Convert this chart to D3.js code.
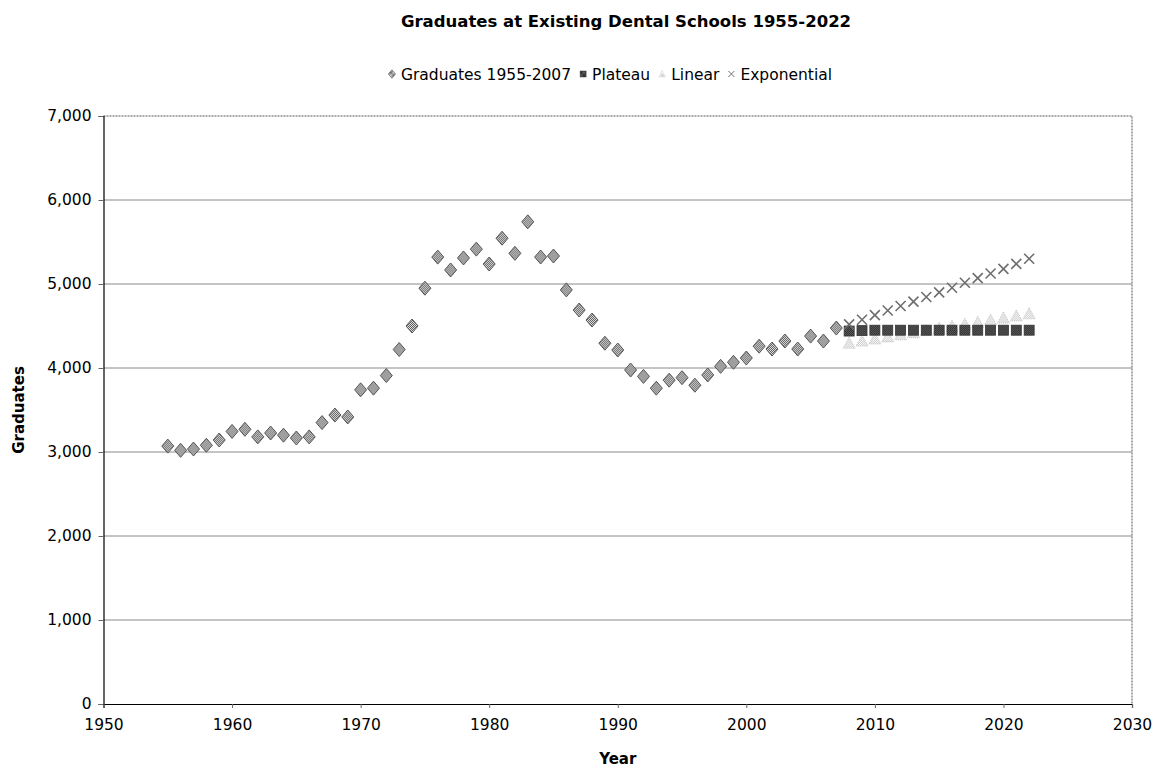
<!DOCTYPE html>
<html>
<head>
<meta charset="utf-8">
<script src="https://cdn.jsdelivr.net/npm/d3@7/dist/d3.min.js"></script>
<style>
  html, body { margin: 0; padding: 0; background: #fff; }
  svg { display: block; font-family: "DejaVu Sans", Verdana, sans-serif; }
</style>
</head>
<body>
<svg id="chart" width="1158" height="768"></svg>
<script>
// Historical graduates, 1955-2007
const histYears = d3.range(1955, 2008);
const histValues = [
  3070, 3020, 3035, 3080, 3143, 3245, 3270, 3180, 3226, 3200,
  3167, 3180, 3350, 3440, 3417, 3740, 3760, 3910, 4220, 4500,
  4950, 5320, 5167, 5310, 5415, 5238, 5545, 5365, 5740, 5321,
  5333, 4930, 4690, 4571, 4295, 4214, 3976, 3900, 3760, 3855,
  3885, 3795, 3917, 4020, 4068, 4119, 4260, 4226, 4321, 4226,
  4380, 4321, 4476
];

// Projections, 2008-2022
const projYears = d3.range(2008, 2023);
const plateauValues = [
  4440, 4445, 4450, 4450, 4450, 4450, 4450, 4450,
  4450, 4450, 4450, 4450, 4450, 4450, 4450
];
const linearValues = [
  4295, 4320, 4345, 4370, 4395, 4420, 4445, 4470,
  4495, 4520, 4545, 4570, 4595, 4620, 4645
];
const exponentialValues = [
  4520, 4575, 4630, 4685, 4738, 4790, 4845, 4900,
  4955, 5015, 5070, 5125, 5180, 5240, 5300
];

const yTicks = [0, 1000, 2000, 3000, 4000, 5000, 6000, 7000];
const xTicks = [1950, 1960, 1970, 1980, 1990, 2000, 2010, 2020, 2030];

const titleText = "Graduates at Existing Dental Schools 1955-2022";
const legendItems = [
  { key: "hist", label: "Graduates 1955-2007" },
  { key: "plateau", label: "Plateau" },
  { key: "linear", label: "Linear" },
  { key: "exp", label: "Exponential" }
];

const svg = d3.select("#chart");
const plot = { left: 103.5, right: 1132, top: 116, bottom: 704 };

const x = d3.scaleLinear().domain([1950, 2030]).range([plot.left, plot.right]);
const y = d3.scaleLinear().domain([0, 7000]).range([plot.bottom, plot.top]);

// Fill patterns that give the markers their hatched look
const defs = svg.append("defs");
const checker = (id, a, b) => {
  const p = defs.append("pattern").attr("id", id)
    .attr("width", 2).attr("height", 2).attr("patternUnits", "userSpaceOnUse");
  p.append("rect").attr("width", 2).attr("height", 2).attr("fill", b);
  p.append("rect").attr("width", 1).attr("height", 1).attr("fill", a);
  p.append("rect").attr("x", 1).attr("y", 1).attr("width", 1).attr("height", 1).attr("fill", a);
};
checker("pDiamond", "#5a5a5a", "#e4e4e4");
checker("pSquare", "#222", "#6a6a6a");
checker("pTri", "#c8c8c8", "#fff");

// Title
svg.append("text")
  .attr("x", 626).attr("y", 27)
  .attr("text-anchor", "middle")
  .attr("font-size", 16.5).attr("font-weight", "bold")
  .text(titleText);

// Gridlines
svg.append("g").selectAll("line")
  .data(yTicks.filter(d => d > 0 && d < 7000))
  .join("line")
  .attr("x1", plot.left).attr("x2", plot.right)
  .attr("y1", d => y(d)).attr("y2", d => y(d))
  .attr("stroke", "#8a8a8a").attr("stroke-width", 1);

// Plot border (top and right)
svg.append("path")
  .attr("d", `M${plot.left},${plot.top}H${plot.right}V${plot.bottom}`)
  .attr("fill", "none").attr("stroke", "#555").attr("stroke-width", 1)
  .attr("stroke-dasharray", "2,1");

// Axes
const yAxis = d3.axisLeft(y).tickValues(yTicks).tickSize(5).tickPadding(7)
  .tickFormat(d3.format(","));
const xAxis = d3.axisBottom(x).tickValues(xTicks).tickSize(4).tickPadding(11)
  .tickFormat(d3.format("d"));

const gy = svg.append("g").attr("transform", `translate(${plot.left},0)`).call(yAxis);
const gx = svg.append("g").attr("transform", `translate(0,${plot.bottom})`).call(xAxis);
[gy, gx].forEach(g => {
  g.select(".domain").attr("stroke", "#000").attr("stroke-width", 1.2);
  g.selectAll(".tick line").attr("stroke", "#666");
  g.selectAll(".tick text").attr("font-size", 15.5).attr("fill", "#000")
    .attr("font-family", "\"DejaVu Sans\", Verdana, sans-serif");
});

// Axis titles
svg.append("text")
  .attr("transform", `translate(24,${(plot.top + plot.bottom) / 2}) rotate(-90)`)
  .attr("text-anchor", "middle").attr("font-size", 15).attr("font-weight", "bold")
  .text("Graduates");
svg.append("text")
  .attr("x", (plot.left + plot.right) / 2).attr("y", 764)
  .attr("text-anchor", "middle").attr("font-size", 15).attr("font-weight", "bold")
  .text("Year");

// Marker drawers
const marker = {
  hist: (g) => g.append("path").attr("d", "M0,-7L6,0L0,7L-6,0Z")
    .attr("fill", "url(#pDiamond)").attr("stroke", "#555").attr("stroke-width", 1),
  plateau: (g) => g.append("rect").attr("x", -5).attr("y", -5).attr("width", 10).attr("height", 10)
    .attr("fill", "url(#pSquare)").attr("stroke", "#333").attr("stroke-width", 0.8),
  linear: (g) => g.append("path").attr("d", "M0,-6L6,5L-6,5Z")
    .attr("fill", "url(#pTri)").attr("stroke", "#c4c4c4").attr("stroke-width", 1)
    .attr("stroke-dasharray", "1,1"),
  exp: (g) => g.append("path").attr("d", "M-5,-5L5,5M-5,5L5,-5")
    .attr("fill", "none").attr("stroke", "#6e6e6e").attr("stroke-width", 1.6)
};

const drawSeries = (years, values, key) => {
  svg.append("g").attr("class", "series-" + key)
    .selectAll("g")
    .data(years.map((yr, i) => [yr, values[i]]))
    .join("g")
    .attr("transform", d => `translate(${x(d[0])},${y(d[1])})`)
    .each(function() { marker[key](d3.select(this)); });
};

drawSeries(histYears, histValues, "hist");
drawSeries(projYears, linearValues, "linear");
drawSeries(projYears, plateauValues, "plateau");
drawSeries(projYears, exponentialValues, "exp");

// Legend: laid out from measured label widths, centred on the chart
const legend = svg.append("g");
const gap = 12;
let cursor = 0;
legendItems.forEach((it) => {
  const g = legend.append("g").attr("transform", `translate(${cursor},0)`);
  const m = g.append("g").attr("transform", "scale(0.6)");
  marker[it.key](m);
  const t = g.append("text").attr("x", 9).attr("y", 5.5).attr("font-size", 15.5).text(it.label);
  cursor += 9 + t.node().getComputedTextLength() + gap;
});
const legendWidth = cursor - gap + 4;
legend.attr("transform", `translate(${610 - legendWidth / 2 + 4},74)`);
</script>
</body>
</html>
